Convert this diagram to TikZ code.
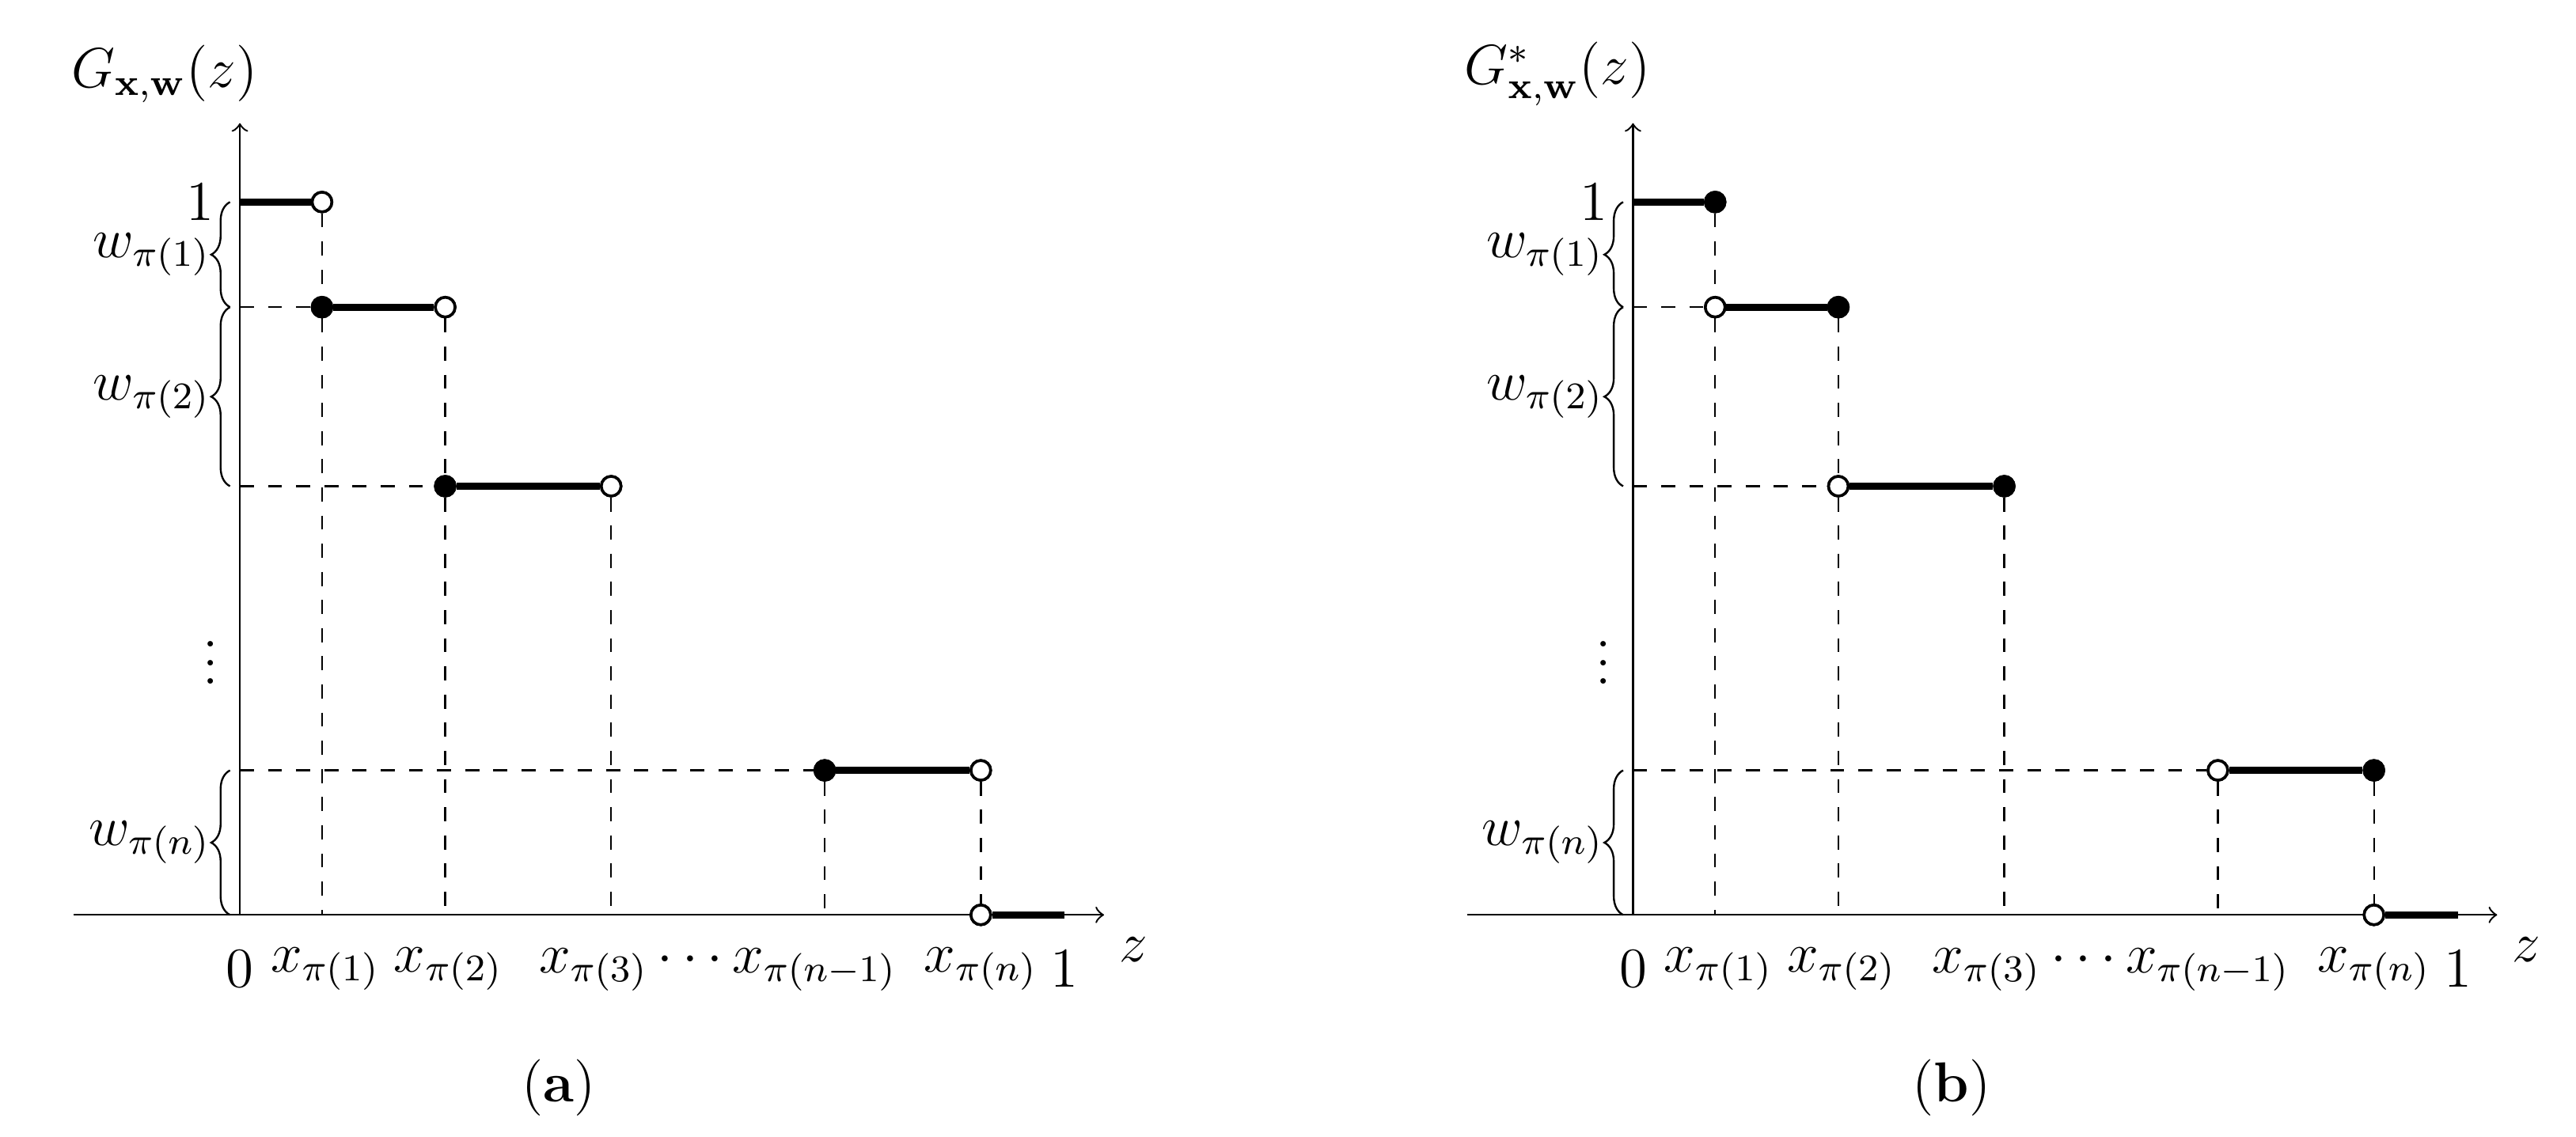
\documentclass[tikz,border=0pt]{standalone}
\usetikzlibrary{decorations.pathreplacing}
\begin{document}
\begin{tikzpicture}[x=0.35pt,y=-0.35pt,
  seg/.style={line width=1.5pt},
  dsh/.style={dashed,thin},
  opendot/.style={circle,draw,fill=white,inner sep=0pt,minimum size=4.2pt,line width=0.6pt},
  fulldot/.style={circle,draw,fill=black,inner sep=0pt,minimum size=4.2pt,line width=0.6pt},
  br/.style={decorate,decoration={brace,amplitude=4pt}},
  lab/.style={inner sep=1pt,font=\large}]
\useasboundingbox (0,0) rectangle (1568,692);
\newcommand{\panel}[5]{% #1 prefix, #2 x shift, #3 style left, #4 style right, #5 G label
\begin{scope}[xshift=#2*0.35pt]
\coordinate (#1o) at (146,557);
\coordinate (#1xe) at (672,557);
\coordinate (#1ye) at (146,75);
\draw[->] (45,557) -- (#1xe);
\draw[->] (146,557) -- (#1ye);
\node[lab] (#1G) at (100,45) {#5};
\coordinate (#1L1) at (146,123);
\coordinate (#1L2) at (146,187);
\coordinate (#1L3) at (146,296);
\coordinate (#1Ln) at (146,469);
\node[#4] (#1r1) at (196,123) {};
\node[#3] (#1l2) at (196,187) {};
\node[#4] (#1r2) at (271,187) {};
\node[#3] (#1l3) at (271,296) {};
\node[#4] (#1r3) at (372,296) {};
\node[#3] (#1ln) at (502,469) {};
\node[#4] (#1rn) at (597,469) {};
\node[opendot] (#1b) at (597,557) {};
\coordinate (#1end) at (648,557);
\coordinate (#1a1) at (196,557);
\coordinate (#1a2) at (271,557);
\coordinate (#1a3) at (372,557);
\coordinate (#1a4) at (502,557);
\draw[dsh] (#1L2) -- (#1l2);
\draw[dsh] (#1L3) -- (#1l3);
\draw[dsh] (#1Ln) -- (#1ln);
\draw[dsh] (#1r1) -- (#1l2) -- (#1a1);
\draw[dsh] (#1r2) -- (#1l3) -- (#1a2);
\draw[dsh] (#1r3) -- (#1a3);
\draw[dsh] (#1ln) -- (#1a4);
\draw[dsh] (#1rn) -- (#1b);
\draw[seg] (#1L1) -- (#1r1);
\draw[seg] (#1l2) -- (#1r2);
\draw[seg] (#1l3) -- (#1r3);
\draw[seg] (#1ln) -- (#1rn);
\draw[seg] (#1b) -- (#1end);
\node[#4] at (#1r1) {};\node[#3] at (#1l2) {};\node[#4] at (#1r2) {};
\node[#3] at (#1l3) {};\node[#4] at (#1r3) {};\node[#3] at (#1ln) {};
\node[#4] at (#1rn) {};\node[opendot] at (#1b) {};
\draw[br] (140,187) -- node[left=3pt,lab] (#1w1) {$w_{\pi(1)}$} (140,123);
\draw[br] (140,296) -- node[left=3pt,lab] (#1w2) {$w_{\pi(2)}$} (140,187);
\draw[br] (140,557) -- node[left=3pt,lab] (#1wn) {$w_{\pi(n)}$} (140,469);
\node[inner sep=0pt,font=\large] (#1vd) at (128,395) {$\vdots$};
\node[lab] (#1one) at (122,123) {$1$};
\node[lab] (#1zero) at (146,590) {$0$};
\node[lab] (#1x1) at (198,590) {$x_{\pi(1)}$};
\node[lab] (#1x2) at (273,590) {$x_{\pi(2)}$};
\node[lab] (#1x3) at (437,590) {$x_{\pi(3)}\cdots x_{\pi(n-1)}$};
\node[lab] (#1xn) at (597,590) {$x_{\pi(n)}$};
\node[lab] (#1onex) at (648,590) {$1$};
\node[lab] (#1z) at (690,578) {$z$};
\end{scope}}
\panel{a}{0}{fulldot}{opendot}{$G_{\mathbf{x},\mathbf{w}}(z)$}
\panel{b}{848}{opendot}{fulldot}{$G^{*}_{\mathbf{x},\mathbf{w}}(z)$}
\node[font=\large] (capa) at (340,662) {(\textbf{a})};
\node[font=\large] (capb) at (1188,662) {(\textbf{b})};
\end{tikzpicture}
\end{document}
